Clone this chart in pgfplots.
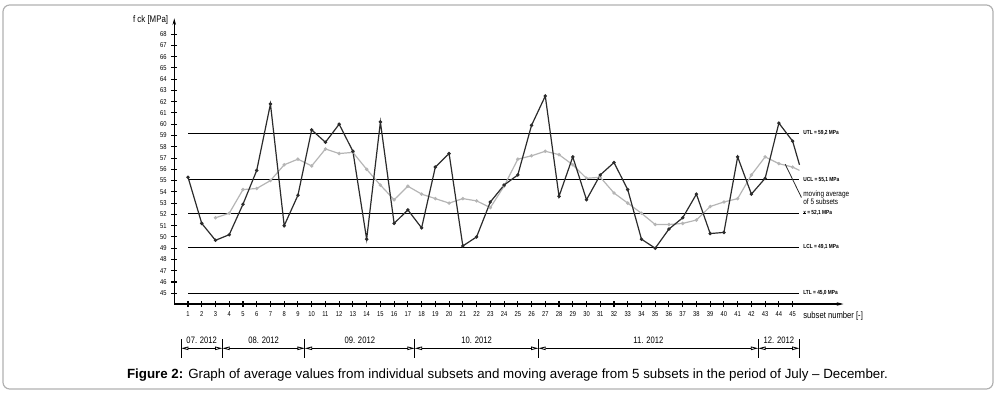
\documentclass[border=0pt]{standalone}
\usepackage{fontspec}
\setmainfont{Liberation Sans}
\newfontfamily\narrow[FakeStretch=0.82]{Liberation Sans}
\usepackage{pgfplots}
\pgfplotsset{compat=1.18}
\usetikzlibrary{arrows.meta}
\definecolor{darkline}{HTML}{2B2B2B}
\definecolor{grayline}{HTML}{B5B5B5}
\definecolor{framegray}{HTML}{B0B0B0}

\pgfplotstableread{
x y
1 55.3
2 51.2
3 49.7
4 50.2
5 52.9
6 55.9
7 61.8
8 51.0
9 53.7
10 59.5
11 58.4
12 60.0
13 57.6
14 49.8
15 60.2
16 51.2
17 52.4
18 50.8
19 56.2
20 57.4
21 49.2
22 50.0
23 53.1
24 54.6
25 55.5
26 59.9
27 62.5
28 53.6
29 57.1
30 53.3
31 55.5
32 56.6
33 54.2
34 49.8
35 49.0
36 50.7
37 51.7
38 53.8
39 50.3
40 50.4
41 57.1
42 53.8
43 55.2
44 60.1
45 58.5
}\individual

\pgfplotstableread{
x y
3 51.7
4 52.1
5 54.2
6 54.3
7 55.0
8 56.4
9 56.9
10 56.3
11 57.8
12 57.4
13 57.5
14 56.0
15 54.6
16 53.3
17 54.5
18 53.8
19 53.4
20 53.0
21 53.4
22 53.2
23 52.6
24 54.5
25 56.9
26 57.2
27 57.6
28 57.3
29 56.4
30 55.2
31 55.3
32 53.9
33 53.0
34 52.1
35 51.1
36 51.1
37 51.2
38 51.5
39 52.7
40 53.1
41 53.4
42 55.5
43 57.1
44 56.5
45 56.2
}\moving

\tikzset{dimarrow/.style={black, line width=0.6pt, {Triangle[open,length=5.5pt,width=2.6pt]}-{Triangle[open,length=5.5pt,width=2.6pt]}}}

\begin{document}
\begin{tikzpicture}
\path[use as bounding box] (0,0) rectangle (747.75pt,295.5pt);
\draw[framegray, line width=0.9pt, rounded corners=5pt] (2.25pt,3.75pt) rectangle (744.75pt,291.75pt);
\begin{axis}[
  at={(130.7pt,67.5pt)}, anchor=south west,
  scale only axis, width=501.9pt, height=214.3pt,
  xmin=0, xmax=48.7, ymin=44.05, ymax=69.4,
  axis x line=bottom, axis y line=left,
  x axis line style={-{Stealth[length=5pt,width=2.6pt]}},
  y axis line style={-{Stealth[length=5pt,width=2.6pt]}},
  axis line style={line width=0.8pt, black},
  tick align=center, major tick length=4.5pt,
  tick style={black, line width=0.8pt},
  xtick={1,...,45}, ytick={45,...,68},
  ticklabel style={font=\narrow\fontsize{5.3}{6}\selectfont, text=black},
  /pgf/number format/assume math mode=true,
  clip=false,
]
% control lines
\addplot[black, line width=0.8pt] coordinates {(1,59.2) (45.5,59.2)};
\addplot[black, line width=0.8pt] coordinates {(1,55.1) (45.5,55.1)};
\addplot[black, line width=0.8pt] coordinates {(1,52.1) (45.5,52.1)};
\addplot[black, line width=0.8pt] coordinates {(1,49.1) (45.5,49.1)};
\addplot[black, line width=0.8pt] coordinates {(1,45.0) (45.5,45.0)};
\node[font=\narrow\bfseries\fontsize{4.4}{5}\selectfont, anchor=west, inner sep=0pt] at (axis cs:45.76,59.2) {UTL = 59,2 MPa};
\node[font=\narrow\bfseries\fontsize{4.4}{5}\selectfont, anchor=west, inner sep=0pt] at (axis cs:45.76,55.1) {UCL = 55,1 MPa};
\node[font=\narrow\bfseries\fontsize{4.4}{5}\selectfont, anchor=west, inner sep=0pt] at (axis cs:45.76,52.1) {x\llap{\raisebox{0.55ex}{\rule{0.45em}{0.25pt}}} = 52,1 MPa};
\node[font=\narrow\bfseries\fontsize{4.4}{5}\selectfont, anchor=west, inner sep=0pt] at (axis cs:45.76,49.1) {LCL = 49,1 MPa};
\node[font=\narrow\bfseries\fontsize{4.4}{5}\selectfont, anchor=west, inner sep=0pt] at (axis cs:45.76,45.0) {LTL = 45,0 MPa};
% series
\addplot[grayline, line width=0.9pt, mark=*, mark size=0.8pt] table[x=x,y=y] {\moving};
\addplot[grayline, line width=0.9pt] coordinates {(45,56.2) (45.5,55.9)};
\addplot[darkline, line width=0.9pt, mark=*, mark size=0.8pt] table[x=x,y=y] {\individual};
\addplot[darkline, line width=0.9pt] coordinates {(45,58.5) (45.5,56.4)};
% pointer
\addplot[darkline, line width=0.6pt] coordinates {(44.46,56.45) (45.64,53.5)};
\node[anchor=west, align=left, inner sep=0pt, font=\narrow\fontsize{5.9}{5.8}\selectfont] at (axis cs:45.76,53.47) {moving average\\of 5 subsets};
% axis labels
\node[anchor=west, inner sep=0pt, font=\narrow\fontsize{7}{8}\selectfont] at (axis cs:45.76,43.0) {subset number [-]};
\node[anchor=east, inner sep=0pt, font=\narrow\fontsize{7.2}{8}\selectfont] at (axis cs:-0.43,69.25) {f ck [MPa]};
% month brackets
\draw[black, line width=0.7pt] (axis cs:0.5,40.92) -- (axis cs:0.5,39.26);
\draw[black, line width=0.7pt] (axis cs:3.5,40.92) -- (axis cs:3.5,39.26);
\draw[black, line width=0.7pt] (axis cs:9.5,40.92) -- (axis cs:9.5,39.26);
\draw[black, line width=0.7pt] (axis cs:17.5,40.92) -- (axis cs:17.5,39.26);
\draw[black, line width=0.7pt] (axis cs:26.5,40.92) -- (axis cs:26.5,39.26);
\draw[black, line width=0.7pt] (axis cs:42.5,40.92) -- (axis cs:42.5,39.26);
\draw[black, line width=0.7pt] (axis cs:45.5,40.92) -- (axis cs:45.5,39.26);
\draw[dimarrow] (axis cs:0.5,40.12) -- (axis cs:3.5,40.12);
\draw[dimarrow] (axis cs:3.5,40.12) -- (axis cs:9.5,40.12);
\draw[dimarrow] (axis cs:9.5,40.12) -- (axis cs:17.5,40.12);
\draw[dimarrow] (axis cs:17.5,40.12) -- (axis cs:26.5,40.12);
\draw[dimarrow] (axis cs:26.5,40.12) -- (axis cs:42.5,40.12);
\draw[dimarrow] (axis cs:42.5,40.12) -- (axis cs:45.5,40.12);
\node[font=\narrow\fontsize{7}{8}\selectfont, inner sep=0pt] at (axis cs:2,40.86) {07. 2012};
\node[font=\narrow\fontsize{7}{8}\selectfont, inner sep=0pt] at (axis cs:6.5,40.86) {08. 2012};
\node[font=\narrow\fontsize{7}{8}\selectfont, inner sep=0pt] at (axis cs:13.5,40.86) {09. 2012};
\node[font=\narrow\fontsize{7}{8}\selectfont, inner sep=0pt] at (axis cs:22,40.86) {10. 2012};
\node[font=\narrow\fontsize{7}{8}\selectfont, inner sep=0pt] at (axis cs:34.5,40.86) {11. 2012};
\node[font=\narrow\fontsize{7}{8}\selectfont, inner sep=0pt] at (axis cs:44,40.86) {12. 2012};
\end{axis}
\node[anchor=base, inner sep=0pt, font=\fontsize{10}{12}\selectfont] at (380.6pt,11.8pt) {\textbf{Figure 2:} Graph of average values from individual subsets and moving average from 5 subsets in the period of July -- December.};
\end{tikzpicture}
\end{document}
